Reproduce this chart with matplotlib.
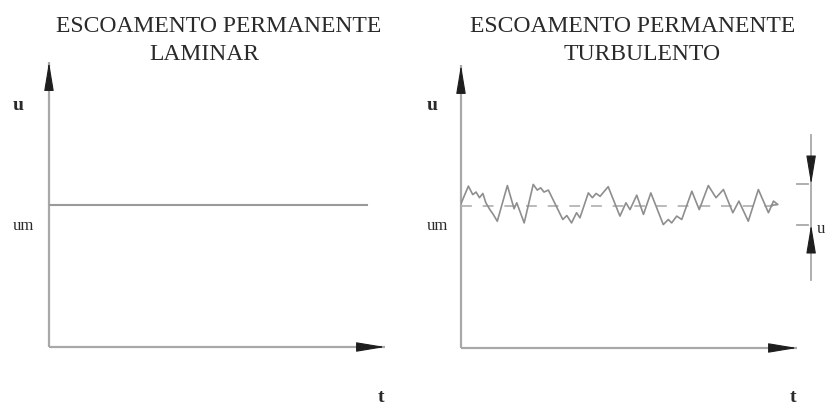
import numpy as np
import matplotlib
matplotlib.use("Agg")
import matplotlib.pyplot as plt

# laminar: constant velocity
t_lam = [0.0, 9.46]
u_lam = [5.0, 5.0]
um = 5.0

# turbulent: fluctuating velocity
t_turb = [0.0, 0.22, 0.35, 0.45, 0.55, 0.65, 0.74, 0.86, 0.96, 1.08,
          1.38, 1.58, 1.66, 1.88, 2.15, 2.27, 2.37, 2.47, 2.60, 3.03,
          3.15, 3.29, 3.44, 3.54, 3.79, 3.91, 4.02, 4.14, 4.38, 4.73,
          4.91, 5.03, 5.23, 5.43, 5.65, 6.02, 6.17, 6.27, 6.42, 6.57,
          6.87, 7.09, 7.36, 7.59, 7.81, 8.09, 8.27, 8.55, 8.85, 9.15,
          9.30, 9.43, 9.24]
u_turb = [5.10, 5.72, 5.42, 5.51, 5.31, 5.46, 5.13, 4.89, 4.72, 4.48,
          5.74, 4.92, 5.13, 4.42, 5.78, 5.58, 5.66, 5.51, 5.58, 4.54,
          4.68, 4.42, 4.78, 4.60, 5.48, 5.31, 5.46, 5.36, 5.70, 4.66,
          5.13, 4.89, 5.40, 4.72, 5.48, 4.36, 4.54, 4.42, 4.66, 4.54,
          5.54, 4.89, 5.74, 5.31, 5.60, 4.78, 5.19, 4.48, 5.60, 4.78,
          5.19, 5.07, 5.04]

titles = [("ESCOAMENTO PERMANENTE", "LAMINAR"),
          ("ESCOAMENTO PERMANENTE", "TURBULENTO")]

AX_COL = "#a8a8a8"
HEAD_COL = "#1e1e1e"
TXT_COL = "#2a2a2a"
SERIF = ["Liberation Serif", "DejaVu Serif"]

plt.rcParams["font.family"] = SERIF

fig = plt.figure(figsize=(8.26, 4.07), dpi=100)
ax1 = fig.add_axes([0.0593, 0.1474, 0.4068, 0.7002])
ax2 = fig.add_axes([0.5581, 0.1450, 0.4068, 0.6953])


def draw_axes(ax):
    ax.set_xlim(0, 10)
    ax.set_ylim(0, 10)
    ax.axis("off")
    ax.plot([0, 10], [0, 0], color=AX_COL, lw=1.6, clip_on=False, solid_capstyle="butt")
    ax.plot([0, 0], [0, 10], color=AX_COL, lw=1.6, clip_on=False, solid_capstyle="butt")
    head = dict(arrowstyle="-|>,head_length=1.8,head_width=0.3", color=HEAD_COL,
                lw=0.8, shrinkA=0, shrinkB=0, mutation_scale=10)
    ax.annotate("", xy=(10, 0), xytext=(9.2, 0), arrowprops=head, annotation_clip=False)
    ax.annotate("", xy=(0, 10), xytext=(0, 9.1), arrowprops=head, annotation_clip=False)


draw_axes(ax1)
draw_axes(ax2)

ax1.plot(t_lam, u_lam, color="#9a9a9a", lw=1.5)

ax2.plot([0, 9.3], [um, um], color="#b4b4b4", lw=1.3, dashes=(6, 6))
ax2.plot(t_turb, u_turb, color="#8e8e8e", lw=1.2)

# fluctuation amplitude marker on the right
u_hi, u_lo = max(u_turb), min(u_turb)
xm = 10.42
ax2.plot([xm, xm], [u_lo - 1.95, u_hi + 1.75], color=AX_COL, lw=1.3, clip_on=False)
ax2.plot([10.0, 10.33], [u_hi, u_hi], color=AX_COL, lw=1.3, clip_on=False)
ax2.plot([10.0, 10.33], [u_lo, u_lo], color=AX_COL, lw=1.3, clip_on=False)
mark = dict(arrowstyle="-|>,head_length=1.8,head_width=0.3", color=HEAD_COL,
            lw=0.8, shrinkA=0, shrinkB=0, mutation_scale=10)
ax2.annotate("", xy=(xm, u_hi), xytext=(xm, u_hi + 0.9), arrowprops=mark, annotation_clip=False)
ax2.annotate("", xy=(xm, u_lo), xytext=(xm, u_lo - 0.9), arrowprops=mark, annotation_clip=False)
fig.text(817 / 826, 1 - 229 / 407, "u", fontsize=12, color=TXT_COL, ha="left", va="center")

# axis labels
for x_u, x_t in [(13, 381), (427, 793)]:
    fig.text(x_u / 826, 1 - 106 / 407, "u", fontsize=14, color=TXT_COL, ha="left",
             va="center", fontweight="bold")
    fig.text(x_u / 826, 1 - 226 / 407, "um", fontsize=12, color=TXT_COL, ha="left",
             va="center")
    fig.text(x_t / 826, 1 - 398 / 407, "t", fontsize=14, color=TXT_COL, ha="center",
             va="center", fontweight="bold")

# titles
for (l1, l2), (c1, c2) in zip(titles, [(219, 204), (633, 642)]):
    fig.text(c1 / 826, 1 - 27 / 407, l1, fontsize=17, color=TXT_COL, ha="center", va="center")
    fig.text(c2 / 826, 1 - 55 / 407, l2, fontsize=17, color=TXT_COL, ha="center", va="center")

fig.savefig("out.png", dpi=100)
